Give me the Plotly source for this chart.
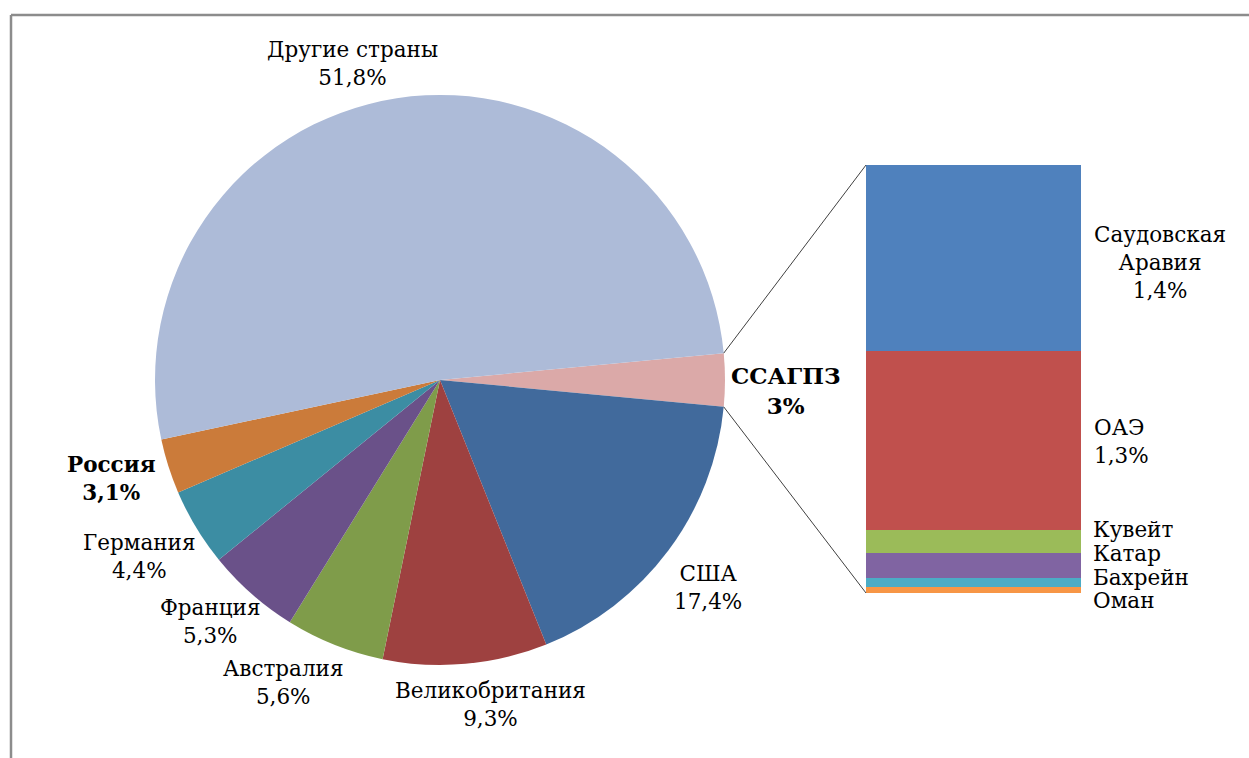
import plotly.graph_objects as go
import math

# ---- data ----
pie_labels = ["ССАГПЗ", "США", "Великобритания", "Австралия", "Франция", "Германия", "Россия", "Другие страны"]
pie_values = [3.0, 17.4, 9.3, 5.6, 5.3, 4.4, 3.1, 51.8]
pie_text = ["3%", "17,4%", "9,3%", "5,6%", "5,3%", "4,4%", "3,1%", "51,8%"]
pie_colors = ["#DBA9A8", "#416A9C", "#9E4140", "#7F9C4A", "#6A5189", "#3C8DA3", "#CB7B3A", "#ADBBD8"]

bar_labels = ["Оман", "Бахрейн", "Катар", "Кувейт", "ОАЭ", "Саудовская Аравия"]
bar_values = [0.045, 0.07, 0.19, 0.17, 1.35, 1.4]
bar_colors = ["#F79646", "#4BACC6", "#8064A2", "#9BBB59", "#C0504D", "#4F81BD"]

W, H = 1249, 758
FONT = "'DejaVu Serif', 'Liberation Serif', 'Times New Roman', serif"
FS = 21.5

def px(x):
    return x / W

def py(y):
    return 1 - y / H

# pie geometry (pixels)
cx, cy, R = 440, 380, 285
total = sum(pie_values)
half = pie_values[0] / total * 360 / 2
rotation = 90 - half

fig = go.Figure()
fig.add_trace(go.Pie(
    labels=pie_labels, values=pie_values, sort=False, direction="clockwise",
    rotation=rotation, marker=dict(colors=pie_colors, line=dict(width=0)),
    textinfo="none", hoverinfo="label+value", showlegend=False,
    domain=dict(x=[px(cx - R), px(cx + R)], y=[py(cy + R), py(cy - R)]),
))

# stacked bar
bx0, bx1, by0, by1 = 866, 1081, 165, 593
for lab, val, col in zip(bar_labels, bar_values, bar_colors):
    fig.add_trace(go.Bar(x=["ССАГПЗ"], y=[val], name=lab, marker=dict(color=col, line=dict(width=0)),
                         width=1, showlegend=False, xaxis="x", yaxis="y"))

fig.update_layout(
    barmode="stack", bargap=0,
    xaxis=dict(domain=[px(bx0), px(bx1)], range=[-0.5, 0.5], visible=False, fixedrange=True),
    yaxis=dict(domain=[py(by1), py(by0)], range=[0, sum(bar_values)], visible=False, fixedrange=True),
    width=W, height=H, margin=dict(l=0, r=0, t=0, b=0, pad=0),
    paper_bgcolor="white", plot_bgcolor="white",
    font=dict(family=FONT, size=FS, color="black"),
)

shapes = []
# connector lines
for sgn, by in [(1, by0), (-1, by1)]:
    a = math.radians(sgn * half)
    ex = cx + R * math.cos(a)
    ey = cy - R * math.sin(a)
    shapes.append(dict(type="line", xref="paper", yref="paper", x0=px(ex), y0=py(ey),
                       x1=px(bx0), y1=py(by), line=dict(color="#404040", width=1)))
# frame (top & left)
shapes.append(dict(type="line", xref="paper", yref="paper", x0=px(11), y0=py(15), x1=1, y1=py(15),
                   line=dict(color="#8C8C8C", width=2.5)))
shapes.append(dict(type="line", xref="paper", yref="paper", x0=px(11), y0=py(15), x1=px(11), y1=0,
                   line=dict(color="#8C8C8C", width=2.5)))
fig.update_layout(shapes=shapes)

# pie label positions (pixel centers) and font size
pie_label_pos = {
    "ССАГПЗ": (786, 390, True, 23),
    "США": (708, 587, False, FS),
    "Великобритания": (490, 704, False, FS),
    "Австралия": (283, 682, False, FS),
    "Франция": (210, 621, False, FS),
    "Германия": (139, 556, False, FS),
    "Россия": (111, 478, True, FS),
    "Другие страны": (352, 63, False, FS),
}
ann = []
for lab, t in zip(pie_labels, pie_text):
    x, y, bold, fs = pie_label_pos[lab]
    txt = f"{lab}<br>{t}"
    if bold:
        txt = f"<b>{lab}</b><br><b>{t}</b>"
    ann.append(dict(x=px(x), y=py(y), xref="paper", yref="paper", text=txt, showarrow=False,
                    xanchor="center", yanchor="middle", align="center",
                    font=dict(family=FONT, size=fs, color="black")))

bar_ann = [
    ("Саудовская<br>Аравия<br>1,4%", 1160, 262, "center"),
    ("ОАЭ<br>1,3%", 1092, 441, "left"),
    ("Кувейт", 1091, 529, "left"),
    ("Катар", 1091, 553, "left"),
    ("Бахрейн", 1091, 577, "left"),
    ("Оман", 1091, 600, "left"),
]
for txt, x, y, anchor in bar_ann:
    ann.append(dict(x=px(x), y=py(y), xref="paper", yref="paper", text=txt, showarrow=False,
                    xanchor=anchor, yanchor="middle", align=anchor,
                    font=dict(family=FONT, size=FS, color="black")))
fig.update_layout(annotations=ann)

fig.write_html("out.html", config={"displayModeBar": False},
               post_script="document.body.style.margin='0';document.body.style.overflow='hidden';")
